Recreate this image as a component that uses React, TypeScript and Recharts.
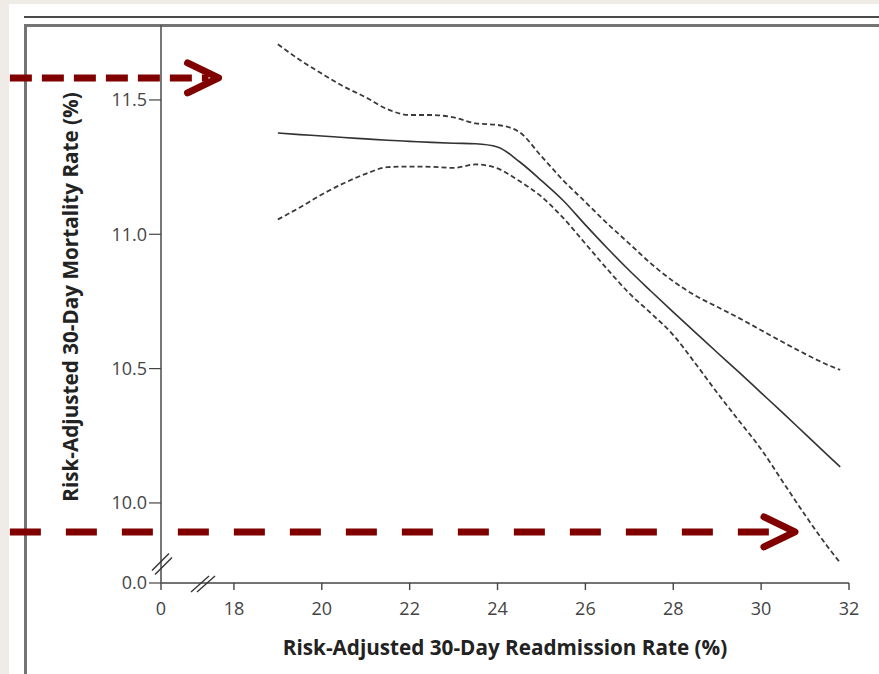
import React from 'react';
import { LineChart, Line, XAxis, YAxis, ReferenceLine, ReferenceDot } from 'recharts';

// Readmission rate (%) sample points
const readmission = [19.0, 19.5, 20, 20.5, 21, 21.5, 22, 22.5, 23, 23.5, 24, 24.5, 25, 25.5, 26, 26.5, 27, 27.5, 28, 28.5, 29, 29.5, 30, 30.5, 31, 31.5, 31.8];
// Estimated mortality rate (%)
const mortality = [11.377, 11.371, 11.366, 11.36, 11.355, 11.35, 11.346, 11.342, 11.339, 11.337, 11.325, 11.27, 11.2, 11.125, 11.035, 10.948, 10.865, 10.787, 10.71, 10.635, 10.56, 10.486, 10.41, 10.334, 10.257, 10.18, 10.134];
// Upper 95% confidence band
const upperCI = [11.707, 11.649, 11.598, 11.55, 11.51, 11.465, 11.444, 11.444, 11.435, 11.413, 11.407, 11.38, 11.29, 11.2, 11.12, 11.04, 10.965, 10.89, 10.825, 10.772, 10.73, 10.688, 10.643, 10.598, 10.555, 10.515, 10.495];
// Lower 95% confidence band
const lowerCI = [11.055, 11.1, 11.148, 11.19, 11.225, 11.25, 11.252, 11.251, 11.247, 11.26, 11.245, 11.198, 11.14, 11.06, 10.965, 10.87, 10.78, 10.705, 10.625, 10.52, 10.41, 10.305, 10.2, 10.077, 9.955, 9.84, 9.777];

// Axis ticks (broken axes: first tick stands for zero)
const xTicks = [16.34, 18, 20, 22, 24, 26, 28, 30, 32];
const xTickLabels = ['0', '18', '20', '22', '24', '26', '28', '30', '32'];
const yTicks = [9.702, 10.0, 10.5, 11.0, 11.5];
const yTickLabels = ['0.0', '10.0', '10.5', '11.0', '11.5'];

const xDomain = [16.34, 32];
const yDomain = [9.702, 11.779];

// Annotation arrows (data coordinates)
const arrowTop = { y: 11.582, x1: 12.9, x2: 17.65 };
const arrowBottom = { y: 9.892, x1: 12.9, x2: 30.77 };
// Axis break positions
const yBreak = { x: 16.34, y: 9.778 };
const xBreak = { x: 17.296, y: 9.702 };

const data = readmission.map((x, i) => ({ x, mid: mortality[i], hi: upperCI[i], lo: lowerCI[i] }));

const fmt = (ticks: number[], labels: string[]) => (v: number) => {
  const i = ticks.findIndex((t) => Math.abs(t - v) < 1e-6);
  return i >= 0 ? labels[i] : String(v);
};

const RED = '#800000';

const ArrowShape = (props: any) => {
  const { x1, y1, x2, y2, strokeDasharray } = props;
  const head = 31;
  const half = 15;
  return (
    <g>
      <line x1={x1} y1={y1} x2={x2 - 10} y2={y2} stroke={RED} strokeWidth={7} strokeDasharray={strokeDasharray} />
      <polyline
        points={`${x2 - head},${y2 - half} ${x2},${y2} ${x2 - head},${y2 + half}`}
        fill="none"
        stroke={RED}
        strokeWidth={7}
        strokeLinecap="round"
        strokeLinejoin="round"
      />
    </g>
  );
};

const YBreakShape = (props: any) => {
  const { cx, cy } = props;
  return (
    <g stroke="#333" strokeWidth={1.4}>
      <line x1={cx - 9} y1={cy + 8} x2={cx + 8} y2={cy - 9} />
      <line x1={cx - 6} y1={cy + 12} x2={cx + 11} y2={cy - 5} />
    </g>
  );
};

const XBreakShape = (props: any) => {
  const { cx, cy } = props;
  return (
    <g stroke="#333" strokeWidth={1.4}>
      <line x1={cx - 12} y1={cy + 9} x2={cx + 6} y2={cy - 7} />
      <line x1={cx - 6} y1={cy + 9} x2={cx + 12} y2={cy - 7} />
    </g>
  );
};

const tickStyle = { fontFamily: '"Open Sans", sans-serif', fontSize: 18, fill: '#444' };
const titleStyle = { fontFamily: '"Open Sans", sans-serif', fontSize: 20.7, fontWeight: 700, fill: '#222' };

export default function App() {
  return (
    <div style={{ position: 'absolute', left: 0, top: 0, width: 879, height: 674, background: '#efebe7', overflow: 'hidden' }}>
      <div style={{ position: 'absolute', left: 9, top: 4, width: 870, height: 670, background: '#ffffff' }} />
      <div style={{ position: 'absolute', left: 24, top: 16, width: 855, height: 1.5, background: '#4a4a4a' }} />
      <div style={{ position: 'absolute', left: 24, top: 24, width: 855, height: 3, background: '#747474' }} />
      <div style={{ position: 'absolute', left: 24, top: 24, width: 3, height: 650, background: '#747474' }} />
      <div style={{ position: 'absolute', left: 0, top: 0 }}>
        <LineChart width={879} height={674} data={data} margin={{ top: 25, right: 30, left: 0, bottom: 0 }}>
          <XAxis
            type="number"
            dataKey="x"
            domain={xDomain}
            allowDataOverflow
            ticks={xTicks}
            tickFormatter={fmt(xTicks, xTickLabels)}
            height={91}
            tickSize={7}
            tickMargin={12}
            stroke="#444"
            strokeWidth={1.4}
            tick={tickStyle}
            tickLine={{ stroke: '#444', strokeWidth: 1.4 }}
            label={{ value: 'Risk-Adjusted 30-Day Readmission Rate (%)', position: 'center', dy: 19, style: titleStyle }}
          />
          <YAxis
            type="number"
            domain={yDomain}
            allowDataOverflow
            ticks={yTicks}
            tickFormatter={fmt(yTicks, yTickLabels)}
            width={161}
            tickSize={12}
            tickMargin={2}
            stroke="#555"
            strokeWidth={1.6}
            tick={tickStyle}
            tickLine={{ stroke: '#444', strokeWidth: 1.2 }}
            label={{ value: 'Risk-Adjusted 30-Day Mortality Rate (%)', angle: -90, position: 'center', dx: -10, dy: -7, style: titleStyle }}
          />
          <Line type="monotone" dataKey="hi" stroke="#3a3a3a" strokeWidth={1.8} strokeDasharray="5 3" dot={false} activeDot={false} isAnimationActive={false} />
          <Line type="monotone" dataKey="lo" stroke="#3a3a3a" strokeWidth={1.8} strokeDasharray="5 3" dot={false} activeDot={false} isAnimationActive={false} />
          <Line type="monotone" dataKey="mid" stroke="#333" strokeWidth={1.6} dot={false} activeDot={false} isAnimationActive={false} />
          <ReferenceDot x={yBreak.x} y={yBreak.y} ifOverflow="visible" shape={<YBreakShape />} />
          <ReferenceDot x={xBreak.x} y={xBreak.y} ifOverflow="visible" shape={<XBreakShape />} />
          <ReferenceLine
            segment={[{ x: arrowTop.x1, y: arrowTop.y }, { x: arrowTop.x2, y: arrowTop.y }]}
            ifOverflow="visible"
            strokeDasharray="22 10"
            shape={ArrowShape}
          />
          <ReferenceLine
            segment={[{ x: arrowBottom.x1, y: arrowBottom.y }, { x: arrowBottom.x2, y: arrowBottom.y }]}
            ifOverflow="visible"
            strokeDasharray="31 25"
            shape={ArrowShape}
          />
        </LineChart>
      </div>
    </div>
  );
}
